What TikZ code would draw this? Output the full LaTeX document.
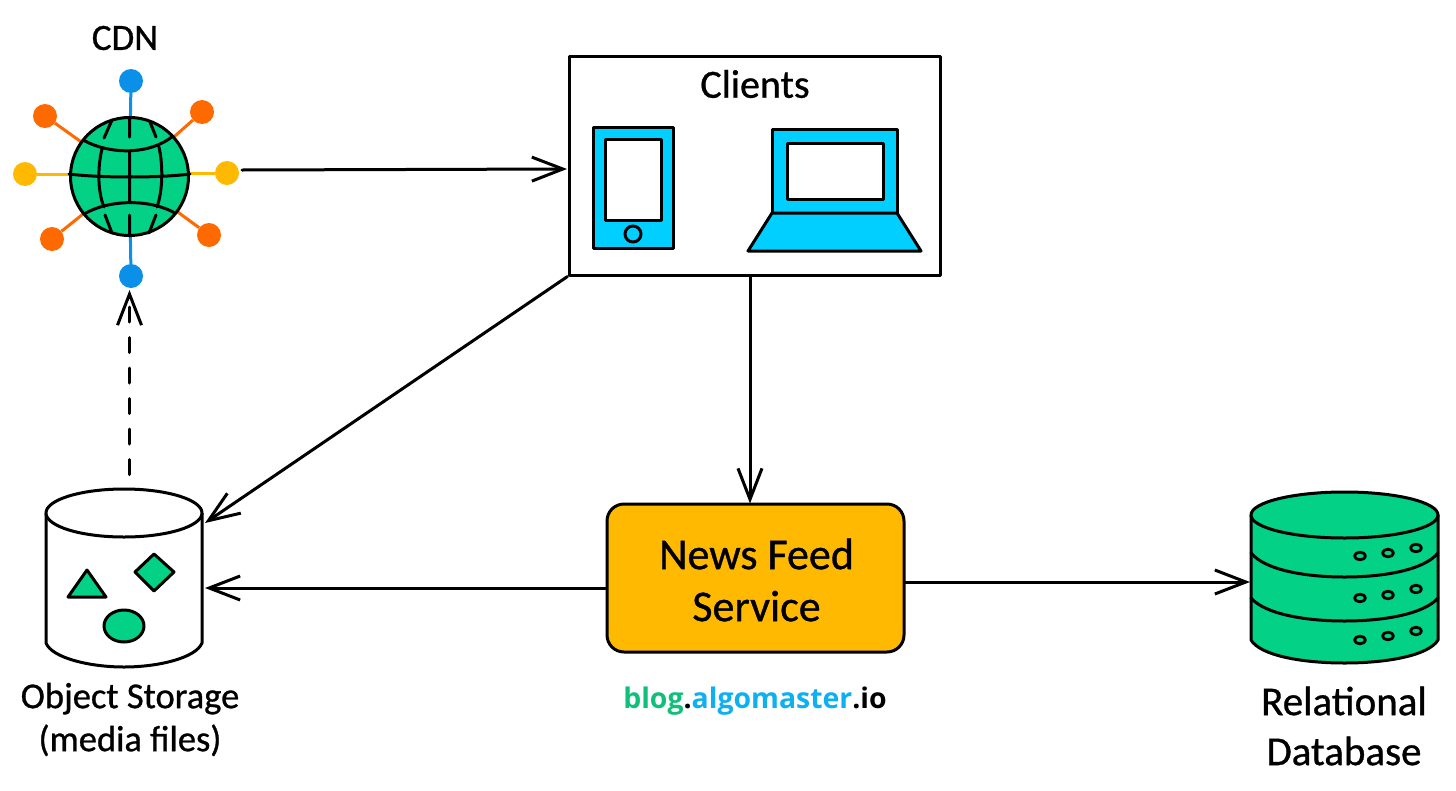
\documentclass[tikz,border=0pt]{standalone}
\usepackage{fontspec}
\setmainfont{Carlito}[FakeBold=0.8]
\newfontfamily\logofont{Open Sans}
\usetikzlibrary{arrows.meta,shapes.geometric}
\definecolor{gr}{HTML}{03D186}
\definecolor{bl}{HTML}{0A90E8}
\definecolor{org}{HTML}{FF6A00}
\definecolor{yel}{HTML}{FFB900}
\definecolor{cy}{HTML}{00CFFF}
\definecolor{logogreen}{HTML}{10BF7A}
\definecolor{logoblue}{HTML}{0FB0F0}
\tikzset{
  ln/.style={line width=3pt,line join=round,line cap=round},
  conn/.style={line width=3pt,-{Straight Barb[length=31pt,width=24pt,line width=3pt]},line cap=round},
  dot/.style={circle,minimum size=24pt,inner sep=0pt},
  lab/.style={inner sep=0pt,align=center,text=black},
  ghost/.style={inner sep=0pt,rectangle},
  led/.style={ln,line width=2.8pt,fill=none}
}
\begin{document}
\begin{tikzpicture}[x=1pt,y=-1pt]
\useasboundingbox (0,0) rectangle (1456,790);
\fill[white] (0,0) rectangle (1456,790);
% CDN
\node[lab,font=\fontsize{37}{40}\selectfont] (cdnl) at (125,38) {CDN};
\coordinate (g) at (129.5,176.5);
\node[dot,fill=bl]  (d1) at (131,81) {};
\node[dot,fill=bl]  (d2) at (131,276) {};
\node[dot,fill=org] (d3) at (45,116) {};
\node[dot,fill=org] (d4) at (202,112) {};
\node[dot,fill=org] (d5) at (52,239) {};
\node[dot,fill=org] (d6) at (209,235) {};
\node[dot,fill=yel] (d7) at (25,174) {};
\node[dot,fill=yel] (d8) at (227,173) {};
\draw[bl,line width=3pt] (d1)--(g) (d2)--(g);
\draw[org,line width=3pt] (d3)--(g) (d4)--(g) (d5)--(g) (d6)--(g);
\draw[yel,line width=3pt] (d7)--(g |- d7) (d8)--(g |- d8);
\node[circle,draw=black,fill=gr,line width=3pt,minimum size=118pt,inner sep=0pt] (globe) at (g) {};
\draw[ln]
  (69,174) .. controls (100,178) and (160,178) .. (190,174)
  (83,140) .. controls (110,155) and (150,155) .. (173,136)
  (84,214) .. controls (110,199) and (150,199) .. (175,213)
  (129.5,118)--(129.5,137) (129.5,151)--(129.5,201) (129.5,215)--(129.5,236)
  (102,149) .. controls (98,165) and (97,190) .. (104,207)
  (159,147) .. controls (163,165) and (163,190) .. (157,207)
  (112,120)--(104,138) (150,122)--(156,137)
  (105,215)--(112,233) (156,215)--(149,233);
% Clients
\node[draw=black,ln,fill=white,minimum width=371pt,minimum height=219pt,inner sep=0pt] (clients) at (754.5,165.5) {};
\node[lab,font=\fontsize{40}{44}\selectfont] (clientsl) at (755,84) {Clients};
\draw[ln,fill=cy] (593,127) rectangle (673,248);
\draw[ln,fill=white] (605,139) rectangle (661,220);
\draw[ln] (633,234) circle (8);
\draw[ln,fill=cy] (772,129) rectangle (897,213);
\draw[ln,fill=white] (787,143) rectangle (883,199);
\draw[ln,fill=cy] (772,213)--(897,213)--(921,251)--(748,251)--cycle;
% Object storage
\node[ghost,minimum width=156pt,minimum height=178pt] (store) at (124,578) {};
\draw[ln,fill=white] (46,513) -- (46,643) .. controls (52,658) and (90,667) .. (124,667) .. controls (158,667) and (196,658) .. (202,643) -- (202,513);
\draw[ln,fill=white] (124,513) ellipse (78 and 24);
\draw[ln,fill=gr] (87,570)--(106,597)--(68,597)--cycle;
\draw[ln,fill=gr] (154,554)--(174,572)--(154,591)--(135,572)--cycle;
\draw[ln,fill=gr] (124,626) ellipse (20 and 16);
\node[lab,font=\fontsize{36.5}{40}\selectfont] (storel) at (130,719.5) {Object Storage\\[3pt](media files)};
% News feed
\node[draw=black,ln,fill=yel,rounded corners=17pt,minimum width=297pt,minimum height=148pt,inner sep=0pt,font=\fontsize{44}{52}\selectfont,align=center,text depth=0pt] (news) at (755.5,578) {};
\node[lab,font=\fontsize{44}{52}\selectfont] (newsl) at (756.5,580) {News Feed\\Service};
% DB
\node[ghost,minimum width=187pt,minimum height=171pt] (db) at (1344.5,577.5) {};
\draw[ln,fill=gr] (1251,515) -- (1251,640) .. controls (1260,655) and (1300,663) .. (1344.5,663) .. controls (1389,663) and (1429,655) .. (1438,640) -- (1438,515);
\draw[ln,fill=gr] (1344.5,515) ellipse (93.5 and 23);
\draw[ln] (1251,553) .. controls (1265,570) and (1305,577) .. (1344.5,577) .. controls (1384,577) and (1424,570) .. (1438,553);
\draw[ln] (1251,598) .. controls (1265,614) and (1305,621) .. (1344.5,621) .. controls (1384,621) and (1424,614) .. (1438,598);
\foreach \x/\y in {1360/556,1388/553,1416/548,1360/598,1388/595,1416/589,1360/640,1388/636,1416/631}
  \draw[led] (\x,\y) ellipse (5.5 and 3.8);
\node[lab,font=\fontsize{41}{50}\selectfont] (dbl) at (1344,726) {Relational\\Database};
% logo
\node[lab,font=\logofont\bfseries\fontsize{28.4}{32}\selectfont] (logo) at (755,701) {\textcolor{logogreen}{blog}.\textcolor{logoblue}{algomaster}.io};
% connectors
\coordinate (c1s) at (242,170);
\coordinate (c1e) at (567,169);
\draw[conn] (c1s)--(c1e);
\draw[conn] ([xshift=-4.5pt]clients.south) -- ([xshift=-4.5pt,yshift=-1pt]clients.south |- news.north);
\coordinate (c3e) at (205,523);
\draw[conn] (clients.south west)--(c3e);
\coordinate (c4e) at (205,588);
\draw[conn] (news.west |- c4e)--(c4e);
\coordinate (c5e) at (1250,582);
\draw[conn] (news.east |- c5e)--(c5e);
\coordinate (c6s) at (129.5,474.5);
\coordinate (c6e) at (129.5,290);
\draw[conn,dash pattern=on 15pt off 15.5pt] (c6s)--(c6e);
\end{tikzpicture}
\end{document}
